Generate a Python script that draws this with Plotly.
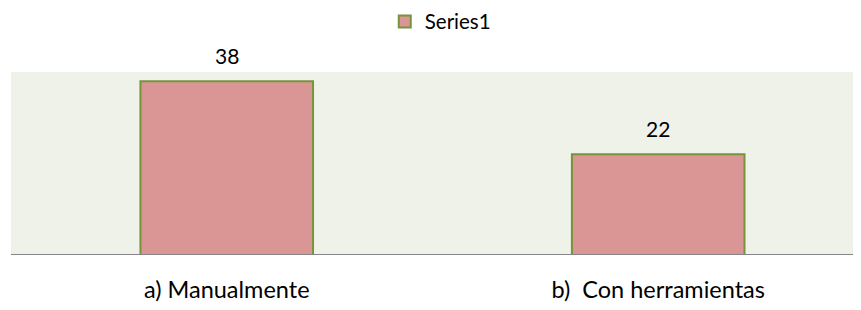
import plotly.graph_objects as go

categories = ["a) Manualmente", "b)\u00a0 Con herramientas"]
values = [38, 22]
series_name = "Series1"

FONT = "Lato"

fig = go.Figure()
fig.add_trace(go.Bar(
    x=categories, y=values, name=series_name,
    marker=dict(color="#D99694", line=dict(color="#77933C", width=2)),
    width=0.40,
    showlegend=True,
))
for c, v in zip(categories, values):
    fig.add_annotation(x=c, y=v, text=str(v), showarrow=False, yanchor="bottom",
                       yshift=11, font=dict(size=21, family=FONT, color="#000000"))

# page body has an 8px default margin, so the figure is sized/offset to compensate
fig.update_layout(
    width=853, height=302,
    margin=dict(l=3, r=0, t=64, b=55, autoexpand=False),
    paper_bgcolor="white", plot_bgcolor="#EFF2E8",
    font=dict(family=FONT, color="#000000", size=20),
    showlegend=True,
    legend=dict(orientation="h", x=0.505, xanchor="center", y=0.955, yanchor="middle",
                yref="container", font=dict(size=20.5, family=FONT)),
    xaxis=dict(range=[-0.5, 1.47], showgrid=False, showline=False, automargin=False,
               ticks="outside", ticklen=14, tickcolor="rgba(0,0,0,0)",
               tickfont=dict(size=23.5, family=FONT), zeroline=False),
    yaxis=dict(range=[0, 40], showgrid=False, showticklabels=False, zeroline=False,
               showline=False, automargin=False),
)
fig.add_shape(type="line", xref="paper", yref="y", x0=0, x1=1, y0=0, y1=0,
              line=dict(color="#868686", width=2))
fig.write_html("out.html")
